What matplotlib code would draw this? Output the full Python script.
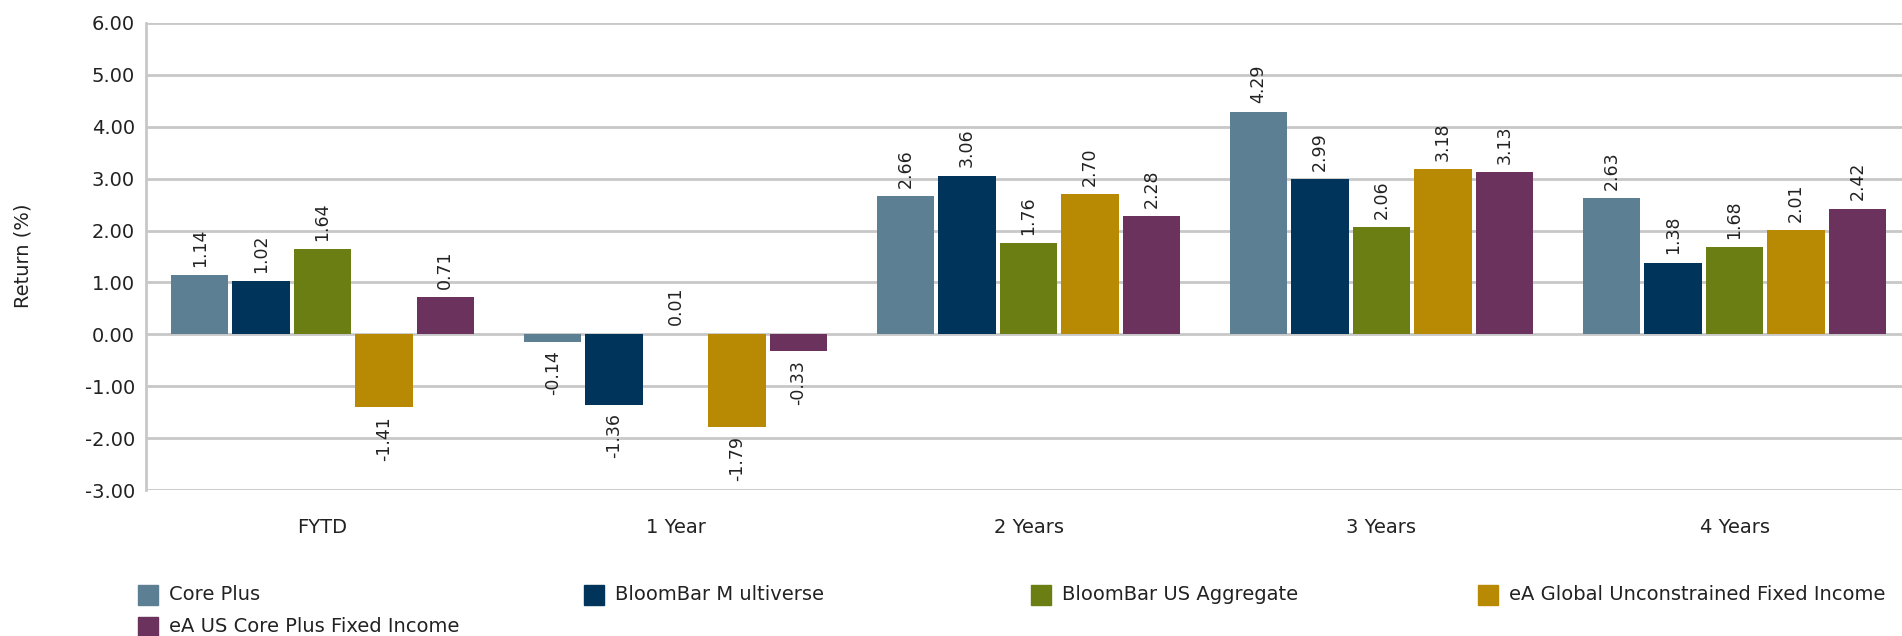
import numpy as np
import matplotlib
matplotlib.use("Agg")
import matplotlib.pyplot as plt
from matplotlib.patches import Rectangle

plt.rcParams['font.family'] = ['DejaVu Sans']

# --- data ---
periods = ['FYTD', '1 Year', '2 Years', '3 Years', '4 Years']
series_names = ['Core Plus', 'BloomBar M ultiverse', 'BloomBar US Aggregate',
                'eA Global Unconstrained Fixed Income', 'eA US Core Plus Fixed Income']
core_plus = [1.14, -0.14, 2.66, 4.29, 2.63]
bloombar_multiverse = [1.02, -1.36, 3.06, 2.99, 1.38]
bloombar_aggregate = [1.64, 0.01, 1.76, 2.06, 1.68]
ea_global_unconstrained = [-1.41, -1.79, 2.70, 3.18, 2.01]
ea_us_core_plus = [0.71, -0.33, 2.28, 3.13, 2.42]
colors = ['#5D7F93', '#00345A', '#6B7E13', '#B88A03', '#6A325C']

all_series = [core_plus, bloombar_multiverse, bloombar_aggregate,
              ea_global_unconstrained, ea_us_core_plus]

W, H = 1902, 636
fig = plt.figure(figsize=(W / 100, H / 100), dpi=100)
# plot area runs a little past the right edge of the picture, as in the original
ax = fig.add_axes([146 / W, (H - 490) / H, (1911 - 146) / W, (490 - 23) / H])

x = np.arange(len(periods))
n = len(all_series)
pitch = 0.174
width = 0.1626

for i, (vals, col) in enumerate(zip(all_series, colors)):
    pos = x + (i - (n - 1) / 2) * pitch
    bars = ax.bar(pos, vals, width=width, color=col, zorder=3)
    for b, v in zip(bars, vals):
        off = 6 if v >= 0 else -6
        ax.annotate(f'{v:.2f}', (b.get_x() + b.get_width() / 2, v),
                    xytext=(0, off), textcoords='offset points', rotation=90,
                    ha='center', va='bottom' if v >= 0 else 'top',
                    fontsize=12.5, color='#222222')

ax.set_xlim(-0.5, len(periods) - 0.5)
ax.set_ylim(-3, 6)
ax.set_yticks(np.arange(-3, 7, 1))
ax.yaxis.set_major_formatter(matplotlib.ticker.FormatStrFormatter('%.2f'))
ax.set_xticks(x)
ax.set_xticklabels(periods)
ax.tick_params(axis='both', length=0, labelsize=14, colors='#222222')
ax.tick_params(axis='x', pad=20)
ax.tick_params(axis='y', pad=8)
ax.grid(axis='y', color='#C8C8C8', linewidth=2, zorder=0)
for s in ['top', 'right', 'bottom']:
    ax.spines[s].set_visible(False)
ax.spines['left'].set_color('#C8C8C8')
ax.spines['left'].set_linewidth(2)
fig.text(23 / W, (H - 256) / H, 'Return (%)', rotation=90, fontsize=14,
         ha='center', va='center', color='#222222')

# legend laid out row-major like the original
col_x = [138, 584, 1031, 1478]
row_y = [595, 627]
for i, (name, col) in enumerate(zip(series_names, colors)):
    cx = col_x[i % 4]
    cy = row_y[i // 4]
    fig.patches.append(Rectangle((cx / W, (H - cy - 10) / H), 20 / W, 20 / H,
                                 transform=fig.transFigure, color=col, figure=fig))
    fig.text((cx + 31) / W, (H - cy) / H, name, fontsize=14, va='center', ha='left',
             color='#222222')

fig.savefig('out.png', dpi=100)
